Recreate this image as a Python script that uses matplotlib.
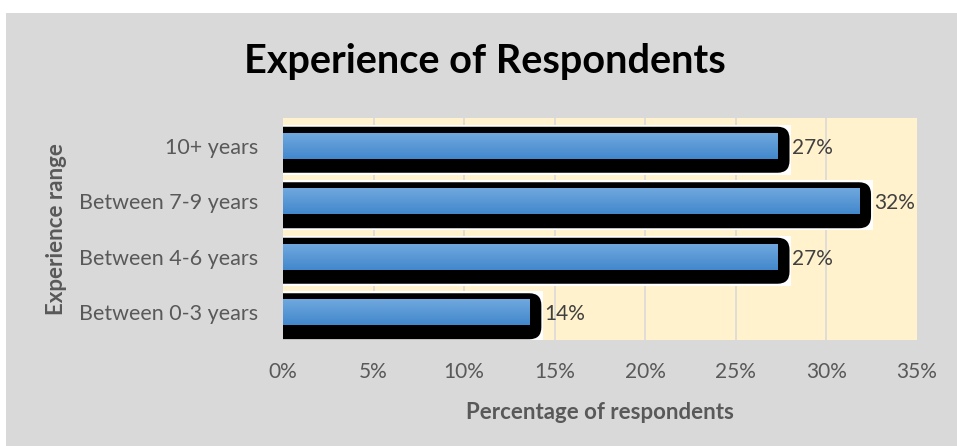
import numpy as np
import matplotlib.pyplot as plt
from matplotlib.patches import Rectangle, FancyBboxPatch

categories = ['Between 0-3 years', 'Between 4-6 years', 'Between 7-9 years', '10+ years']
shares = [13.6, 27.3, 31.8, 27.3]
xticks = [0, 5, 10, 15, 20, 25, 30, 35]

plt.rcParams['font.family'] = ['Lato', 'DejaVu Sans']

W, H = 957, 446
fig = plt.figure(figsize=(W / 100, H / 100), dpi=100)
fig.patch.set_facecolor('white')
fig.add_artist(Rectangle((6 / W, 0), 1, 1 - 13 / H, transform=fig.transFigure,
                         facecolor='#d9d9d9', edgecolor='none', zorder=-10))

x0, x1, y0, y1 = 283, 917, 118, 340
ax = fig.add_axes([x0 / W, 1 - y1 / H, (x1 - x0) / W, (y1 - y0) / H])
ax.set_facecolor('#fff2cc')
ax.set_xlim(0, 35)
ax.set_ylim(-0.5, len(categories) - 0.5)

# pixel -> data unit conversions
px_x = 35 / (x1 - x0)
px_y = len(categories) / (y1 - y0)

for x in xticks[1:-1]:
    ax.axvline(x, color='#d9d9d9', lw=1.2, zorder=0)

bar_h = 26 * px_y
grad = np.linspace(0, 1, 64).reshape(-1, 1)
top_c = np.array([112, 168, 222]) / 255
bot_c = np.array([66, 136, 204]) / 255
rgb = top_c[None, None, :] * (1 - grad[..., None]) + bot_c[None, None, :] * grad[..., None]

for i, v in enumerate(shares):
    btop = i + bar_h / 2 + 6 * px_y
    bbot = i - bar_h / 2 - 14 * px_y
    bright = v + 12 * px_x
    # white backing
    ax.add_patch(Rectangle((0, bbot - 2 * px_y), bright + 1.5 * px_x, btop - bbot + 4 * px_y,
                           facecolor='white', edgecolor='none', zorder=1))
    # black rounded outline / shadow
    ax.add_patch(FancyBboxPatch((-1, bbot), bright + 1, btop - bbot,
                                boxstyle='round,pad=0,rounding_size=%f' % (12 * px_x),
                                mutation_aspect=px_y / px_x,
                                facecolor='black', edgecolor='none', zorder=2))
    # blue gradient bar
    r = Rectangle((0, i - bar_h / 2), v, bar_h, facecolor='none', edgecolor='none', zorder=3)
    ax.add_patch(r)
    im = ax.imshow(rgb, extent=(0, v, i - bar_h / 2, i + bar_h / 2), aspect='auto',
                   origin='upper', zorder=3)
    im.set_clip_path(r)
    ax.annotate(f'{v:.0f}%', (bright, i - 2 * px_y), xytext=(2, 0), textcoords='offset points',
                va='center', ha='left', fontsize=15, color='#404040', zorder=4)

ax.set_xticks(xticks)
ax.set_xticklabels([f'{x}%' for x in xticks], fontsize=15, color='#595959')
ax.set_yticks(range(len(categories)))
ax.set_yticklabels(categories, fontsize=15.5, color='#595959')
ax.tick_params(axis='both', length=0)
ax.tick_params(axis='y', pad=18)
ax.tick_params(axis='x', pad=16)
for s in ax.spines.values():
    s.set_visible(False)

ax.set_xlabel('Percentage of respondents', fontsize=16, fontweight='bold',
              color='#595959', labelpad=14)
ax.set_ylabel('Experience range', fontsize=16, fontweight='bold', color='#595959')
ax.yaxis.set_label_coords((67 - x0) / (x1 - x0), 0.5)

fig.text(485 / W, 1 - 62 / H, 'Experience of Respondents', ha='center', va='center',
         fontsize=28.5, fontweight='bold', color='black')

plt.savefig('out.png', dpi=100, facecolor=fig.get_facecolor())
